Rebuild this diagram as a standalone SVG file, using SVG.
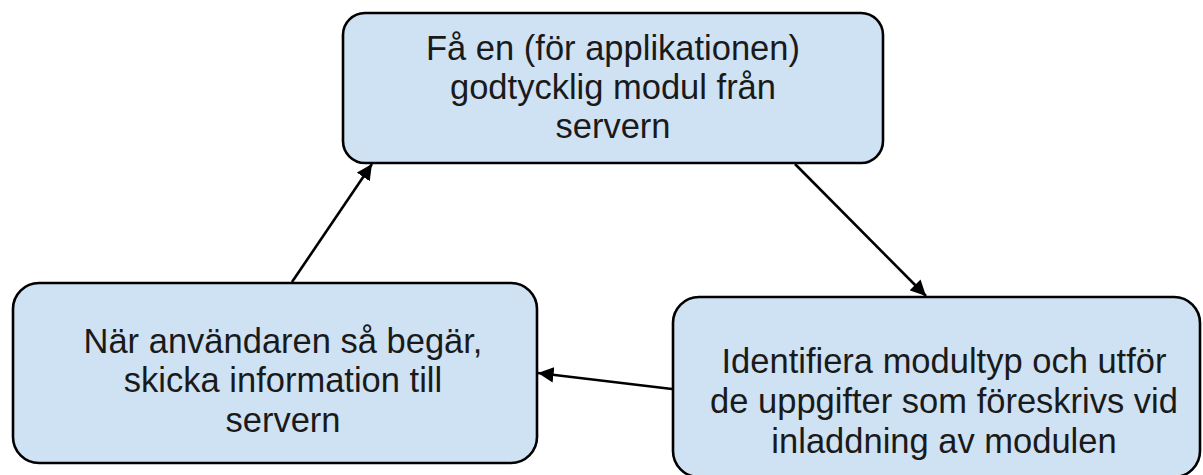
<svg xmlns="http://www.w3.org/2000/svg" width="1203" height="475" viewBox="0 0 1203 475">
  <style>
    .box { fill: #cfe2f3; stroke: #000; stroke-width: 2.6; }
    .label { font-family: "Liberation Sans", Arial, sans-serif; font-size: 34.5px; fill: #1a1a1a; text-anchor: middle; }
    .edge { stroke: #000; stroke-width: 2.6; fill: none; marker-end: url(#arrow); }
  </style>
  <defs>
    <marker id="arrow" viewBox="0 0 10 10" refX="10" refY="5" markerWidth="6" markerHeight="6" orient="auto" markerUnits="strokeWidth">
      <path d="M0,0 L10,5 L0,10 z" fill="#000"/>
    </marker>
  </defs>
  <rect width="1203" height="475" fill="#fff"/>

  <g id="node-fetch">
    <rect class="box" x="343" y="13" width="540" height="150" rx="22" ry="22"/>
    <text class="label" x="613" y="60">Få en (för applikationen)</text>
    <text class="label" x="613" y="99">godtycklig modul från</text>
    <text class="label" x="613" y="138">servern</text>
  </g>

  <g id="node-identify">
    <rect class="box" x="673" y="297" width="527" height="180" rx="26" ry="26"/>
    <text class="label" x="944" y="373">Identifiera modultyp och utför</text>
    <text class="label" x="944" y="413">de uppgifter som föreskrivs vid</text>
    <text class="label" x="944" y="453">inladdning av modulen</text>
  </g>

  <g id="node-send">
    <rect class="box" x="13" y="283" width="524" height="180" rx="26" ry="26"/>
    <text class="label" x="283" y="353">När användaren så begär,</text>
    <text class="label" x="283" y="392">skicka information till</text>
    <text class="label" x="283" y="432">servern</text>
  </g>

  <g id="connectors">
    <line class="edge" x1="795" y1="164" x2="926" y2="296"/>
    <line class="edge" x1="672" y1="389" x2="538" y2="373"/>
    <line class="edge" x1="292" y1="282" x2="372" y2="164"/>
  </g>
</svg>
